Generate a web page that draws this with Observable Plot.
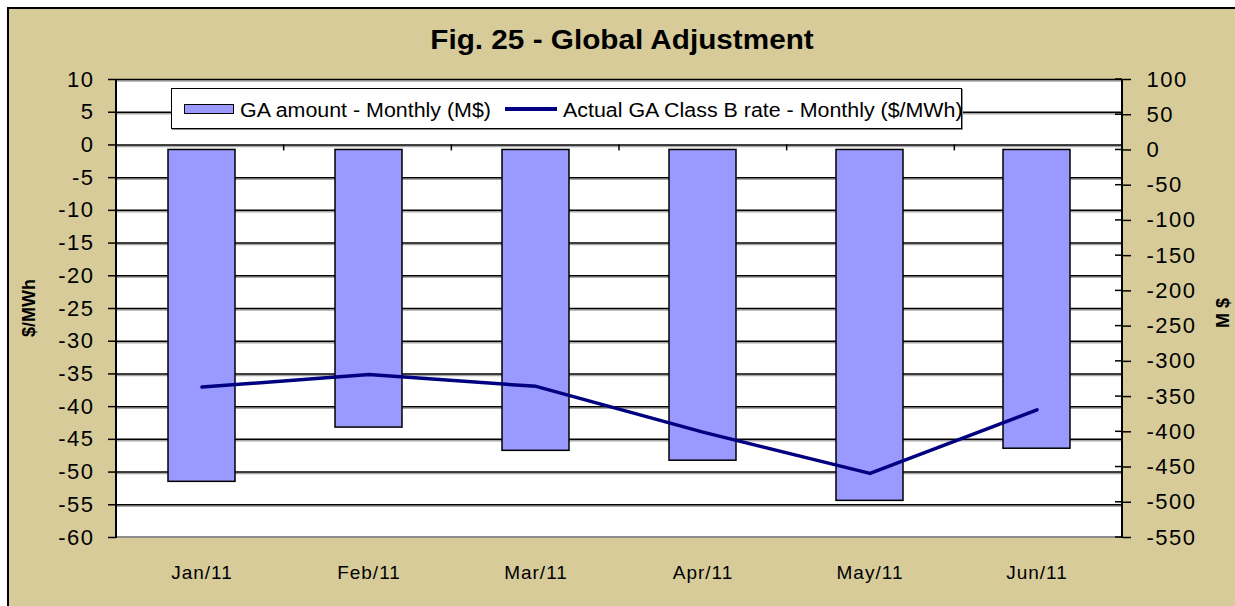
<!DOCTYPE html>
<html><head><meta charset="utf-8">
<script src="https://cdn.jsdelivr.net/npm/d3@7"></script>
<script src="https://cdn.jsdelivr.net/npm/@observablehq/plot@0.6"></script>
<style>
body{margin:0;background:#fff;font-family:Arial,"Liberation Sans",sans-serif;}
#wrap{position:relative;width:1235px;height:606px;overflow:hidden;}
#bg{position:absolute;left:7px;top:7px;width:1240px;height:610px;border-left:2px solid #000;border-top:2px solid #000;background:#D7CC99;}
#chart{position:absolute;left:0;top:0;}
#chart svg g[aria-label="y-axis tick label"] text{letter-spacing:1.5px;font-size:22px !important;}
#chart svg g[aria-label="x-axis tick label"] text{letter-spacing:1px;font-size:19px !important;}
#title{position:absolute;left:0;top:27px;width:1244px;text-align:center;font-weight:bold;font-size:27px;line-height:27px;transform:scaleX(1.1);transform-origin:622px 0;}
#legend{position:absolute;left:171px;top:88px;width:789px;height:39px;background:#fff;border:1px solid #000;box-shadow:1px 1px 0 #909090;}
.sw{position:absolute;}
.lt{position:absolute;font-size:20px;line-height:20px;white-space:nowrap;transform:scaleX(1.07);transform-origin:0 0;}
.ylab{position:absolute;width:200px;text-align:center;font-weight:bold;font-size:18px;line-height:18px;}
</style></head>
<body>
<div id="wrap">
  <div id="bg"></div>
  <div id="chart"></div>
  <div id="title"></div>
  <div id="legend">
    <div class="sw" style="left:12px;top:15px;width:48px;height:8px;background:#9999FF;border:1px solid #000;"></div>
    <div class="lt" id="lt1" style="left:68px;top:11px;"></div>
    <div class="sw" style="left:333px;top:18px;width:52px;height:3.5px;background:#000080;"></div>
    <div class="lt" id="lt2" style="left:391px;top:11px;"></div>
  </div>
  <div class="ylab" id="ylabL" style="left:-71px;top:299px;transform:rotate(-90deg);"></div>
  <div class="ylab" id="ylabR" style="left:1123px;top:304px;transform:rotate(-90deg);"></div>
</div>
<script>
const titleText = "Fig. 25 - Global Adjustment";
const seriesBars = "GA amount - Monthly (M$)";
const seriesLine = "Actual GA Class B rate - Monthly ($/MWh)";
const leftLabel = "$/MWh";
const rightLabel = "M $";

const months = ["Jan/11","Feb/11","Mar/11","Apr/11","May/11","Jun/11"];
const gaAmount = [-471, -394, -427, -441, -498, -424];      // M$ (right axis)
const gaRate = [-37.0, -35.1, -36.9, -43.9, -50.2, -40.5];  // $/MWh (left axis)
const leftTicks = d3.range(-60, 11, 5);
const rightTicks = d3.range(-550, 101, 50);
const L = [-60, 10], R = [-550, 100];

const toLeft = r => L[0] + (r - R[0]) * (L[1] - L[0]) / (R[1] - R[0]);
const toRight = l => R[0] + (l - L[0]) * (R[1] - R[0]) / (L[1] - L[0]);
const data = months.map((m, i) => ({month: m, amount: gaAmount[i], rate: gaRate[i]}));

document.getElementById("title").textContent = titleText;
document.getElementById("lt1").textContent = seriesBars;
document.getElementById("lt2").textContent = seriesLine;
document.getElementById("ylabL").textContent = leftLabel;
document.getElementById("ylabR").textContent = rightLabel;

function decor(index, scales, values, dims) {
  const g = d3.create("svg:g");
  const x0 = dims.marginLeft, x1 = dims.width - dims.marginRight;
  const yt = dims.marginTop, yb = dims.height - dims.marginBottom;
  g.append("line").attr("x1", x0).attr("x2", x1).attr("y1", yb).attr("y2", yb).attr("stroke", "#8c8c8c").attr("stroke-width", 2);
  g.append("line").attr("x1", x0).attr("x2", x0).attr("y1", yt).attr("y2", yb + 1).attr("stroke", "#000").attr("stroke-width", 2);
  g.append("line").attr("x1", x1).attr("x2", x1).attr("y1", yt).attr("y2", yb + 1).attr("stroke", "#000").attr("stroke-width", 2);
  // inward half of the crossing ticks on the secondary axis
  for (const r of rightTicks) {
    const yy = scales.y(toLeft(r));
    g.append("line").attr("x1", x1 - 7).attr("x2", x1).attr("y1", yy).attr("y2", yy).attr("stroke", "#000").attr("stroke-width", 1.5);
  }
  const y0 = scales.y(0);
  const n = months.length;
  for (let i = 1; i < n; i++) {
    const xb = x0 + i * (x1 - x0) / n;
    g.append("line").attr("x1", xb).attr("x2", xb).attr("y1", y0).attr("y2", y0 + 6).attr("stroke", "#000").attr("stroke-width", 1.5);
  }
  return g.node();
}

const chart = Plot.plot({
  width: 1235, height: 606,
  marginTop: 79, marginBottom: 69, marginLeft: 116, marginRight: 113,
  style: {background: "transparent", fontFamily: "Arial, 'Liberation Sans', sans-serif", fontSize: "20px", color: "#000", overflow: "visible"},
  x: {type: "band", domain: months, paddingInner: 0.6, paddingOuter: 0.3, label: null},
  y: {domain: L, label: null},
  marks: [
    Plot.frame({fill: "white", stroke: null}),
    Plot.ruleY(leftTicks.filter(v => v > -60), {stroke: "#a8a8a8", strokeWidth: 1.5, dy: 1.5}),
    Plot.ruleY(leftTicks.filter(v => v > -60), {stroke: "#000", strokeWidth: 1.5}),
    Plot.barY(data, {x: "month", y1: () => toLeft(0), y2: d => toLeft(d.amount), fill: "#9999FF", stroke: "#000", strokeWidth: 1.5}),
    Plot.lineY(data, {x: "month", y: "rate", stroke: "#000080", strokeWidth: 3.5}),
    decor,
    Plot.axisY({anchor: "left", ticks: leftTicks, tickFormat: d => String(d), tickSize: 8, tickPadding: 14, label: null, strokeWidth: 1.5}),
    Plot.axisY({anchor: "right", ticks: rightTicks.map(toLeft), tickFormat: d => String(Math.round(toRight(d))), tickSize: 8, tickPadding: 16, label: null, strokeWidth: 1.5}),
    Plot.axisX({tickSize: 0, tickPadding: 28, label: null})
  ]
});
document.getElementById("chart").appendChild(chart);
</script>
</body></html>
